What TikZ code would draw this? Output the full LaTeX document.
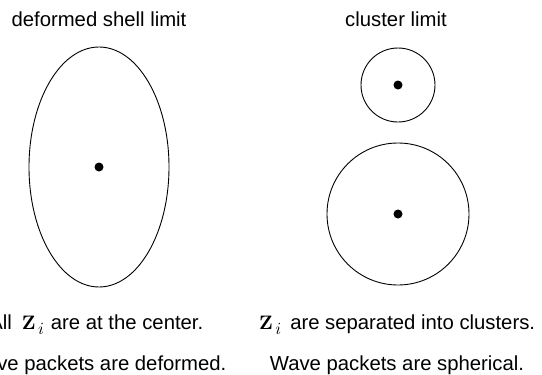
\documentclass[tikz,border=0pt]{standalone}
\usepackage[no-math]{fontspec}
\setmainfont{Liberation Sans}
\usetikzlibrary{shapes.geometric}
% bold Z with a lowered italic i, as set in the captions
\newcommand\zsubi{{\fontsize{10}{12}\selectfont\scalebox{1.95}{$\mathbf{Z}$}\kern2.5pt\raisebox{-5pt}{\scalebox{1.7}{$i$}}}}
\tikzset{
  outline/.style={draw, line width=0.9pt, inner sep=0pt},
  centre/.style={circle, fill, inner sep=0pt, minimum size=9pt},
  caption/.style={inner sep=0pt, font=\fontsize{20.3}{24}\selectfont}
}
\begin{document}
\begin{tikzpicture}[x=1pt, y=-1pt]
  \useasboundingbox (0,0) rectangle (542,375);
  % headings
  \node[caption, anchor=base] (hleft)  at (99,26.5)  {deformed shell limit};
  \node[caption, anchor=base] (hright) at (396,26.5) {cluster limit};
  % deformed shell: one elongated packet
  \node[outline, ellipse, minimum width=140pt, minimum height=240pt] (shell) at (99,167) {};
  \node[centre] (cshell) at (shell.center) {};
  % cluster limit: two spherical packets
  \node[outline, circle, minimum size=74pt]  (small) at (398,85)  {};
  \node[centre] (csmall) at (small.center) {};
  \node[outline, circle, minimum size=142pt] (big)   at (398,214) {};
  \node[centre] (cbig) at (big.center) {};
  % descriptions
  \node[caption, anchor=base east] (l1) at (203.5,329)
    {All\hspace{10pt}\zsubi\hspace{7pt}are at the center.};
  \node[caption, anchor=base] (l2) at (97,370) {Wave packets are deformed.};
  \node[caption, anchor=base west] (r1) at (259,329)
    {\zsubi\hspace{9pt}are separated into clusters.};
  \node[caption, anchor=base] (r2) at (397,370) {Wave packets are spherical.};
\end{tikzpicture}
\end{document}
